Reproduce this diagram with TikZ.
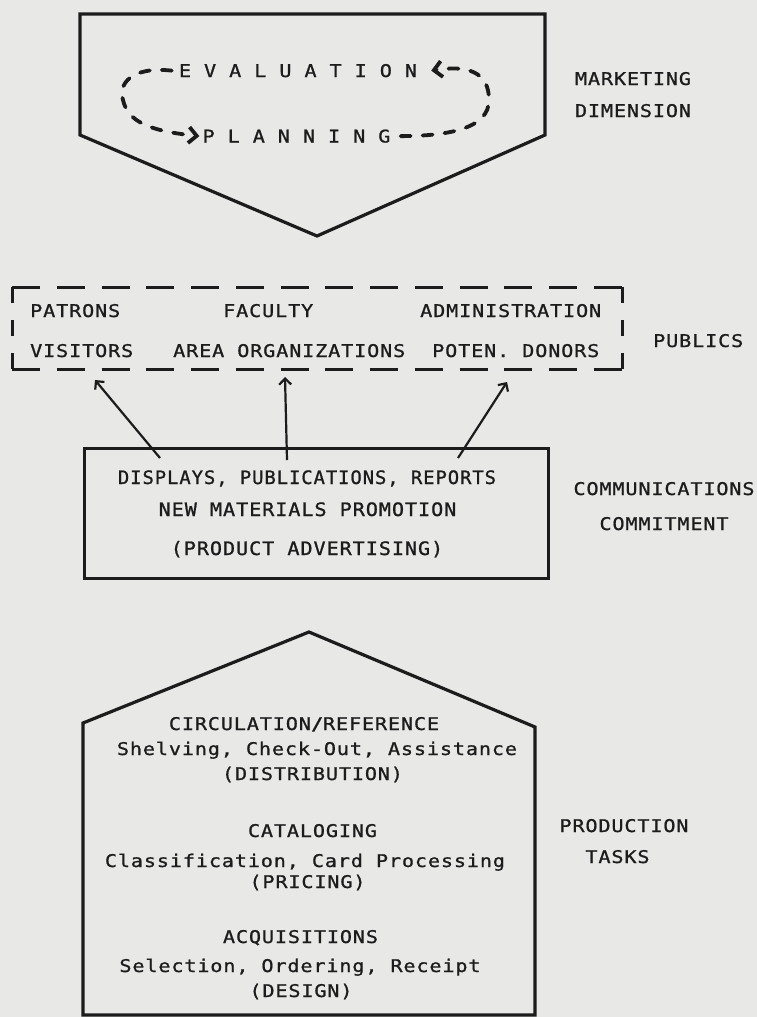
\documentclass[tikz,border=0pt]{standalone}
\usepackage{fontspec}
\newfontfamily\tw[FakeStretch=1.15, LetterSpace=5, FakeBold=1]{DejaVu Sans Mono}
\newfontfamily\twm[FakeStretch=1.09, LetterSpace=5, FakeBold=1]{DejaVu Sans Mono}
\newfontfamily\twn[FakeStretch=1.02, LetterSpace=5, FakeBold=1]{DejaVu Sans Mono}
\usetikzlibrary{arrows.meta}
\definecolor{paper}{RGB}{232,232,231}
\definecolor{ink}{RGB}{28,28,28}
\begin{document}
\begin{tikzpicture}[x=1pt,y=-1pt,
  txt/.style={font={\tw\fontsize{17.5}{21}\selectfont}, text=ink, inner sep=0pt, anchor=base},
  txtm/.style={font={\twm\fontsize{18.5}{22}\selectfont}, text=ink, inner sep=0pt, anchor=base},
  txtn/.style={font={\twn\fontsize{18.5}{22}\selectfont}, text=ink, inner sep=0pt, anchor=base},
  txtw/.style={txt, anchor=base west},
  outline/.style={draw=ink, line width=3.2pt, line join=miter},
  boxn/.style={draw=ink, line width=3.4pt, inner sep=0pt, anchor=north west},
  hside/.style={draw=ink, line width=3pt, dash pattern=on 28pt off 16.77pt},
  vside/.style={draw=ink, line width=3pt, dash pattern=on 16pt off 17pt},
  loopl/.style={draw=ink, line width=3.8pt, line cap=round, dash pattern=on 10pt off 12pt,
     -{Straight Barb[length=8pt,width=16pt,line width=3.8pt]}},
  conn/.style={draw=ink, line width=2.2pt, -{Straight Barb[length=6pt,width=12pt]}}]
\useasboundingbox (0,0) rectangle (757,1017);
\fill[paper] (0,0) rectangle (757,1017);

% ---- top: marketing dimension ----
\draw[outline] (80,14) -- (545,14) -- (545,135) -- (317,236) -- (80,135) -- cycle;
\node[txt] (ev) at (298,77) {E V A L U A T I O N};
\node[txt] (pl) at (296.5,142.5) {P L A N N I N G};
\draw[loopl] ([xshift=-7pt]ev.west) .. controls (130,66) and (118,85) .. (123,100)
   .. controls (128,122) and (150,131) .. ([xshift=-3pt]pl.west);
\draw[loopl] ([xshift=10pt]pl.east) .. controls (450,136) and (489,128) .. (489,100)
   .. controls (489,72) and (468,65) .. ([xshift=14pt]ev.east);
\node[txt] (mk1) at (633,85) {MARKETING};
\node[txt] (mk2) at (633,117) {DIMENSION};

% ---- publics ----
\node[inner sep=0pt, minimum width=610pt, minimum height=82pt, anchor=north west] (pub) at (12,287) {};
\path[hside] (pub.north west) -- (pub.north east);
\path[hside] (pub.south west) -- (pub.south east);
\path[vside] (pub.north west) -- (pub.south west);
\path[vside] (pub.north east) -- (pub.south east);
\node[txtw] (p1) at (30,317) {PATRONS};
\node[txtw] (p2) at (223,317) {FACULTY};
\node[txtw] (p3) at (420,317) {ADMINISTRATION};
\node[txtw] (p4) at (30,357) {VISITORS};
\node[txtw] (p5) at (173,357) {AREA ORGANIZATIONS};
\node[txtw] (p6) at (432,357) {POTEN. DONORS};
\node[txtw] (publ) at (653,347) {PUBLICS};

% ---- communications ----
\node[boxn, minimum width=464pt, minimum height=130pt] (comm) at (83,447) {};
\node[txtn] (c1) at (307,484) {DISPLAYS, PUBLICATIONS, REPORTS};
\node[txtm] (c2) at (307.5,516) {NEW MATERIALS PROMOTION};
\node[txtm] (c3) at (307,555) {(PRODUCT ADVERTISING)};
\node[txt] (cm1) at (664,495) {COMMUNICATIONS};
\node[txt] (cm2) at (664,530) {COMMITMENT};

\coordinate (a1s) at (160,458); \coordinate (a1e) at (95,380);
\coordinate (a2s) at (287,460); \coordinate (a2e) at (285,377);
\coordinate (a3s) at (458,458); \coordinate (a3e) at (507,382);
\draw[conn] (a1s) -- (a1e);
\draw[conn] (a2s) -- (a2e);
\draw[conn] (a3s) -- (a3e);

% ---- production tasks ----
\draw[outline] (83,1015) -- (83,723) -- (309,632) -- (535,727) -- (535,1015) -- cycle;
\node[txt] (h1) at (304,730) {CIRCULATION{\bfseries/}REFERENCE};
\node[txt] (h2) at (317,755) {Shelving, Check-Out, Assistance};
\node[txt] (h3) at (312.5,780) {(DISTRIBUTION)};
\node[txt] (h4) at (312.5,837) {CATALOGING};
\node[txt] (h5) at (305,867) {Classification, Card Processing};
\node[txt] (h6) at (307.5,888) {(PRICING)};
\node[txt] (h7) at (300.5,943) {ACQUISITIONS};
\node[txt] (h8) at (300,972) {Selection, Ordering, Receipt};
\node[txt] (h9) at (301,997) {(DESIGN)};
\node[txt] (pt1) at (624,832) {PRODUCTION};
\node[txt] (pt2) at (617.5,863) {TASKS};
\end{tikzpicture}
\end{document}
